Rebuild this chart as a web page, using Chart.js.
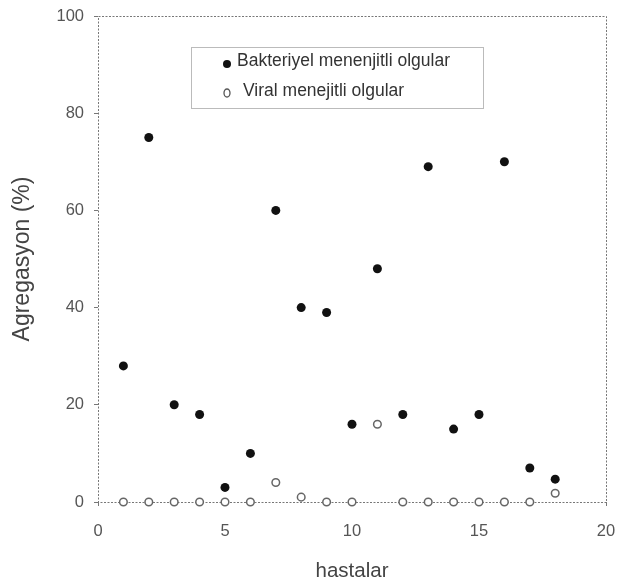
<!DOCTYPE html>
<html>
<head>
<meta charset="utf-8">
<script src="https://cdn.jsdelivr.net/npm/chart.js@4/dist/chart.umd.min.js"></script>
<style>
  html, body { margin: 0; padding: 0; background: #fff; }
  #wrap { width: 617px; height: 588px; }
</style>
</head>
<body>
<div id="wrap"><canvas id="chart" width="617" height="588"></canvas></div>
<script>
// hasta numaralari
const patients = [1, 2, 3, 4, 5, 6, 7, 8, 9, 10, 11, 12, 13, 14, 15, 16, 17, 18];
// Bakteriyel menenjitli olgular (%)
const bacterial = [28, 75, 20, 18, 3, 10, 60, 40, 39, 16, 48, 18, 69, 15, 18, 70, 7, 4.7];
// Viral menejitli olgular (%)
const viral = [0, 0, 0, 0, 0, 0, 4, 1, 0, 0, 16, 0, 0, 0, 0, 0, 0, 1.8];

const xTicks = [0, 5, 10, 15, 20];
const yTicks = [0, 20, 40, 60, 80, 100];

const labelBacterial = 'Bakteriyel menenjitli olgular';
const labelViral = 'Viral menejitli olgular';

const FONT = '"Liberation Sans", Arial, sans-serif';

const toPoints = vals => patients.map((p, i) => ({ x: p, y: vals[i] }));

// dotted frame around the plot area
const framePlugin = {
  id: 'frame',
  beforeDatasetsDraw(chart) {
    const { ctx, chartArea: a } = chart;
    ctx.save();
    ctx.strokeStyle = '#777';
    ctx.lineWidth = 1;
    ctx.setLineDash([2, 1.5]);
    ctx.strokeRect(a.left + 0.5, a.top + 0.5, a.right - a.left, a.bottom - a.top);
    ctx.restore();
  }
};

// legend box inside the plot
const legendBoxPlugin = {
  id: 'legendBox',
  afterDraw(chart) {
    const { ctx } = chart;
    const x0 = 191, y0 = 47, w = 292, h = 61;
    ctx.save();
    ctx.strokeStyle = '#bbb';
    ctx.lineWidth = 1;
    ctx.setLineDash([]);
    ctx.strokeRect(x0 + 0.5, y0 + 0.5, w, h);

    ctx.font = '17.5px ' + FONT;
    ctx.textBaseline = 'middle';
    ctx.textAlign = 'left';

    // filled marker
    ctx.beginPath();
    ctx.arc(227, 64, 4, 0, Math.PI * 2);
    ctx.fillStyle = '#111';
    ctx.fill();
    ctx.fillStyle = '#333';
    ctx.fillText(chart.data.datasets[0].label, 237, 61);

    // open marker
    ctx.beginPath();
    ctx.ellipse(227, 93, 3, 4, 0, 0, Math.PI * 2);
    ctx.strokeStyle = '#555';
    ctx.lineWidth = 1.3;
    ctx.stroke();
    ctx.fillText(chart.data.datasets[1].label, 243, 91);
    ctx.restore();
  }
};

const ctx = document.getElementById('chart').getContext('2d');

new Chart(ctx, {
  type: 'scatter',
  data: {
    datasets: [
      {
        label: labelBacterial,
        data: toPoints(bacterial),
        pointRadius: 4.5,
        pointBackgroundColor: '#111',
        pointBorderColor: '#111',
        pointBorderWidth: 0,
        clip: false
      },
      {
        label: labelViral,
        data: toPoints(viral),
        pointRadius: 3.8,
        pointBackgroundColor: '#fff',
        pointBorderColor: '#666',
        pointBorderWidth: 1.5,
        clip: false
      }
    ]
  },
  options: {
    responsive: false,
    animation: false,
    layout: {
      padding: { top: 16, right: 11, left: 0, bottom: 0 }
    },
    plugins: {
      legend: { display: false },
      tooltip: { enabled: false }
    },
    scales: {
      x: {
        type: 'linear',
        min: 0,
        max: 20,
        afterBuildTicks: scale => { scale.ticks = xTicks.map(v => ({ value: v })); },
        afterFit: scale => {
          scale.height = 86;
          scale.paddingLeft = 0;
          scale.paddingRight = 0;
        },
        grid: {
          drawOnChartArea: false,
          drawTicks: true,
          tickLength: 4,
          color: '#777'
        },
        border: { display: false },
        ticks: {
          padding: 16,
          color: '#555',
          font: { family: FONT, size: 16.5 }
        },
        title: {
          display: true,
          text: 'hastalar',
          color: '#444',
          padding: { top: 4, bottom: 4 },
          font: { family: FONT, size: 20.5 }
        }
      },
      y: {
        type: 'linear',
        min: 0,
        max: 100,
        afterBuildTicks: scale => { scale.ticks = yTicks.map(v => ({ value: v })); },
        afterFit: scale => {
          scale.width = 98;
          scale.paddingTop = 0;
          scale.paddingBottom = 0;
        },
        grid: {
          drawOnChartArea: false,
          drawTicks: true,
          tickLength: 4,
          color: '#777'
        },
        border: { display: false },
        ticks: {
          padding: 10,
          color: '#555',
          font: { family: FONT, size: 16.5 }
        },
        title: {
          display: true,
          text: 'Agregasyon (%)',
          color: '#444',
          padding: { top: 9, bottom: 9 },
          font: { family: FONT, size: 23 }
        }
      }
    }
  },
  plugins: [framePlugin, legendBoxPlugin]
});
</script>
</body>
</html>
